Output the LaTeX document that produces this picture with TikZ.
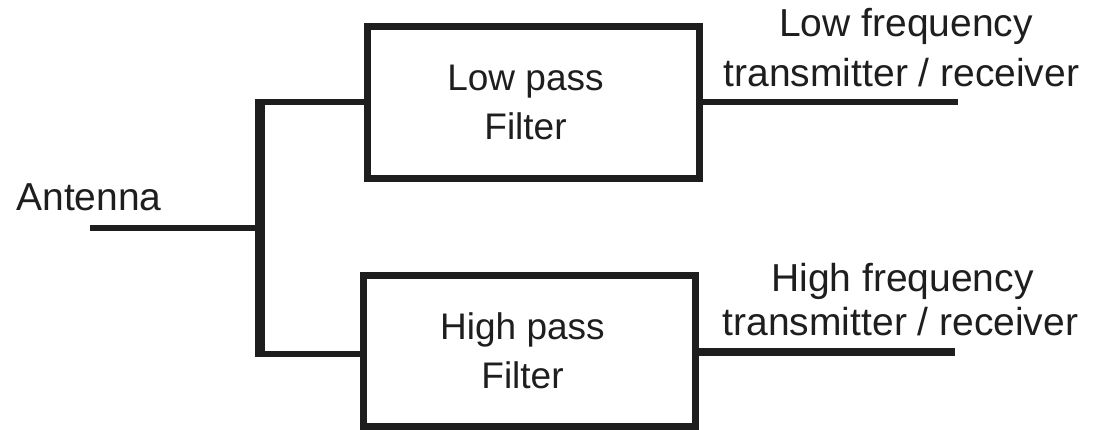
\documentclass[tikz,border=0pt]{standalone}
\usepackage{fontspec}
\setmainfont{Liberation Sans}
\definecolor{ink}{RGB}{30,30,30}
\tikzset{
  filterbox/.style={draw=ink, line width=7pt, minimum width=332pt, minimum height=152pt,
    align=center, inner sep=0pt, text=ink, font=\fontsize{37}{49}\selectfont},
  lbl/.style={anchor=base, inner sep=0pt, text=ink, font=\fontsize{39}{49}\selectfont},
  wire/.style={draw=ink, line width=6pt},
  spine/.style={draw=ink, line width=10pt}
}
\begin{document}
\begin{tikzpicture}[x=1pt,y=-1pt]
\useasboundingbox (0,0) rectangle (1098,429);
\node[filterbox] (low) at (533,102) {Low pass\hspace*{15pt}\\Filter\hspace*{15pt}};
\node[filterbox, minimum height=151pt] (high) at (529,350.5) {High pass\hspace*{13pt}\\Filter\hspace*{13pt}};
\coordinate (spT) at (260,99);
\coordinate (spB) at (260,357);
\coordinate (jT) at (255,102);
\coordinate (jA) at (260,228);
\coordinate (jB) at (255,354);
\coordinate (ant) at (90,228);
\coordinate (lowOut) at (958,102);
\coordinate (highOut) at (955,352);
\draw[spine] (spT) -- (spB);
\draw[wire] (jT) -- (low.west);
\draw[wire] (jB) -- (jB -| high.west);
\draw[wire] (ant) -- (jA);
\draw[wire] (low.east) -- (lowOut);
\draw[wire, line width=8pt] (highOut -| high.east) -- (highOut);
\node[lbl] (antl) at (89,210) {Antenna};
\node[lbl] (lf1) at (906,36.7) {Low frequency};
\node[lbl] (lf2) at (901.5,86.7) {transmitter / receiver};
\node[lbl] (hf1) at (902.5,291.7) {High frequency};
\node[lbl] (hf2) at (900.5,335) {transmitter / receiver};
\end{tikzpicture}
\end{document}
